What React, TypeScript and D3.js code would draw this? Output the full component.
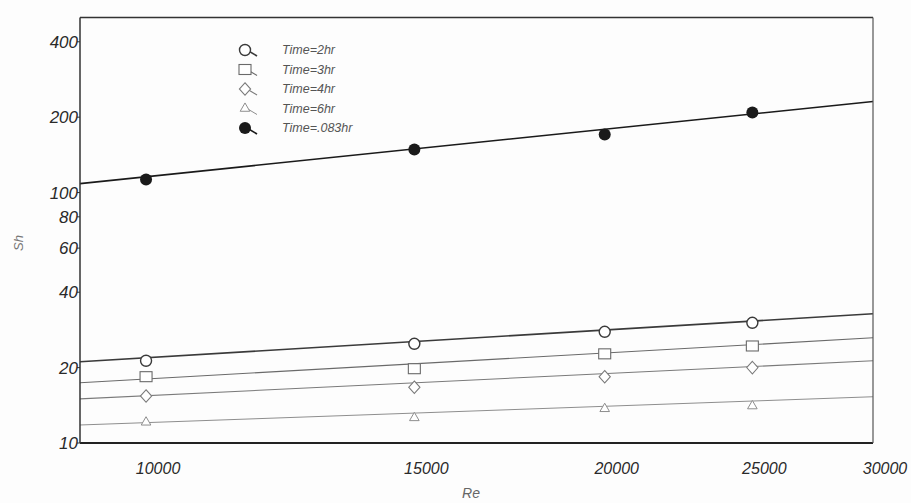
import * as d3 from 'd3';

const W = 911;
const H = 503;
const PLOT = { left: 80, right: 873, top: 17.5, bottom: 443 };

// Reynolds numbers where Sh was measured
const RE = [10000, 15000, 20000, 25000];

// Sherwood number per exposure time
const SH_2HR = [21.3, 24.9, 27.8, 30.2];
const SH_3HR = [18.4, 19.8, 22.7, 24.4];
const SH_4HR = [15.4, 16.7, 18.4, 20.0];
const SH_6HR = [12.1, 12.6, 13.7, 14.05];
const SH_083HR = [112.7, 148.6, 170.6, 208.9];

// fitted line ends, at the left and right edges of the plot
const FIT_RE = [9050, 30000];
const FIT_2HR = [21.1, 32.8];
const FIT_3HR = [17.4, 26.3];
const FIT_4HR = [15.0, 21.3];
const FIT_6HR = [11.8, 15.3];
const FIT_083HR = [108.6, 231];

const X_TICKS = [10000, 15000, 20000, 25000, 30000];
const Y_TICKS = [10, 20, 40, 60, 80, 100, 200, 400];

const LABELS = ['Time=2hr', 'Time=3hr', 'Time=4hr', 'Time=6hr', 'Time=.083hr'];

const SERIES = [
  { label: LABELS[0], values: SH_2HR, fit: FIT_2HR, shape: 'circle', color: '#3a3a3a', lineWidth: 1.6 },
  { label: LABELS[1], values: SH_3HR, fit: FIT_3HR, shape: 'square', color: '#6a6a6a', lineWidth: 1.1 },
  { label: LABELS[2], values: SH_4HR, fit: FIT_4HR, shape: 'diamond', color: '#7a7a7a', lineWidth: 1.1 },
  { label: LABELS[3], values: SH_6HR, fit: FIT_6HR, shape: 'triangle', color: '#8e8e8e', lineWidth: 1 },
  { label: LABELS[4], values: SH_083HR, fit: FIT_083HR, shape: 'filled', color: '#1a1a1a', lineWidth: 1.6 },
];

const FONT = "'Liberation Sans', Arial, sans-serif";

const Marker = ({ shape, color, x, y }) => {
  if (shape === 'filled') {
    return <circle cx={x} cy={y} r={6} fill={color} />;
  }
  if (shape === 'circle') {
    return <circle cx={x} cy={y} r={5.5} fill="white" stroke={color} strokeWidth={1.4} />;
  }
  if (shape === 'square') {
    return <rect x={x - 6} y={y - 5} width={12} height={10} fill="white" stroke={color} strokeWidth={1.1} />;
  }
  if (shape === 'diamond') {
    const d = d3.symbol(d3.symbolDiamond, 70)();
    return (
      <path d={d} transform={`translate(${x},${y}) scale(1.25,0.8)`} fill="white" stroke={color} strokeWidth={1} />
    );
  }
  const d = d3.symbol(d3.symbolTriangle, 40)();
  return <path d={d} transform={`translate(${x},${y})`} fill="white" stroke={color} strokeWidth={1} />;
};

export default function App() {
  const xScale = d3.scaleLog().domain([FIT_RE[0], FIT_RE[1]]).range([PLOT.left, PLOT.right]);
  const yScale = d3.scaleLog().domain([10, 500]).range([PLOT.bottom, PLOT.top]);

  const line = d3
    .line()
    .x(d => xScale(d[0]))
    .y(d => yScale(d[1]));

  return (
    <svg width={W} height={H} style={{ position: 'absolute', left: 0, top: 0, background: '#fdfdfd' }}>
      {/* fitted lines */}
      {SERIES.map(s => (
        <path
          key={`fit-${s.label}`}
          d={line(FIT_RE.map((re, i) => [re, s.fit[i]]))}
          fill="none"
          stroke={s.color}
          strokeWidth={s.lineWidth}
        />
      ))}

      {/* data points */}
      {SERIES.map(s =>
        s.values.map((v, i) => (
          <Marker key={`pt-${s.label}-${i}`} shape={s.shape} color={s.color} x={xScale(RE[i])} y={yScale(v)} />
        ))
      )}

      {/* frame */}
      <line x1={PLOT.left} x2={PLOT.right} y1={PLOT.top} y2={PLOT.top} stroke="#333" strokeWidth={1.5} />
      <line x1={PLOT.left} x2={PLOT.right} y1={PLOT.bottom} y2={PLOT.bottom} stroke="#222" strokeWidth={2} />
      <line x1={PLOT.left} x2={PLOT.left} y1={PLOT.top} y2={PLOT.bottom} stroke="#333" strokeWidth={1.5} />
      <line x1={PLOT.right} x2={PLOT.right} y1={PLOT.top} y2={PLOT.bottom} stroke="#555" strokeWidth={1.2} />

      {/* y ticks */}
      {Y_TICKS.map(t => (
        <g key={`yt-${t}`}>
          <line x1={PLOT.left - 3} x2={PLOT.left} y1={yScale(t)} y2={yScale(t)} stroke="#333" />
          <text
            x={PLOT.left - 2}
            y={yScale(t)}
            dy="0.36em"
            textAnchor="end"
            fontFamily={FONT}
            fontStyle="italic"
            fontSize={17}
            fill="#2a2a2a"
          >
            {t}
          </text>
        </g>
      ))}

      {/* x ticks */}
      {X_TICKS.map(t => (
        <text
          key={`xt-${t}`}
          x={xScale(t) + 12}
          y={PLOT.bottom + 31}
          textAnchor="middle"
          fontFamily={FONT}
          fontStyle="italic"
          fontSize={16}
          fill="#2a2a2a"
        >
          {t}
        </text>
      ))}

      {/* axis titles */}
      <text
        transform={`translate(23,243) rotate(-90)`}
        textAnchor="middle"
        fontFamily={FONT}
        fontStyle="italic"
        fontSize={13}
        fill="#777"
      >
        Sh
      </text>
      <text x={471} y={498} textAnchor="middle" fontFamily={FONT} fontStyle="italic" fontSize={14} fill="#666">
        Re
      </text>

      {/* legend */}
      {SERIES.map((s, i) => {
        const y = 50 + i * 19.5;
        return (
          <g key={`lg-${s.label}`}>
            <line x1={247} y1={y} x2={257} y2={y + 6} stroke={s.color} strokeWidth={s.lineWidth} />
            <Marker shape={s.shape} color={s.color} x={245} y={y} />
            <text x={282} y={y} dy="0.35em" fontFamily={FONT} fontStyle="italic" fontSize={12.5} fill="#555">
              {s.label}
            </text>
          </g>
        );
      })}
    </svg>
  );
}
